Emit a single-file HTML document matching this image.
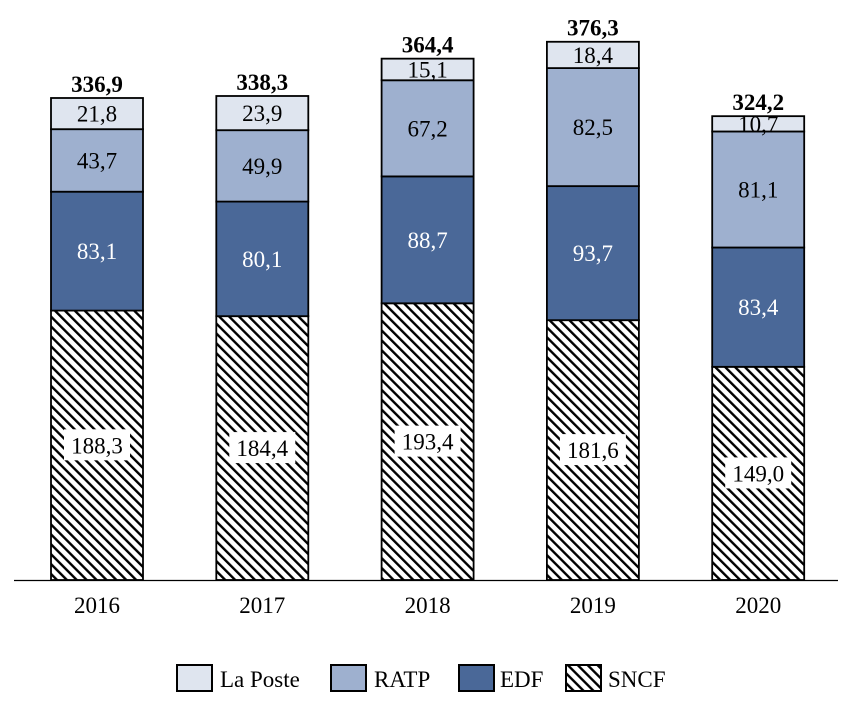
<!DOCTYPE html>
<html><head><meta charset="utf-8">
<style>
html,body{margin:0;padding:0;background:#fff;}
svg{display:block;font-family:"Liberation Serif",serif;}
</style></head>
<body>
<svg id="chart" width="854" height="709" viewBox="0 0 854 709" xmlns="http://www.w3.org/2000/svg">
<defs>
<pattern id="hatch" patternUnits="userSpaceOnUse" width="7" height="7" patternTransform="rotate(-45)">
<rect width="7" height="7" fill="#fff"/>
<rect x="0" y="0" width="2.4" height="7" fill="#000"/>
</pattern>
</defs>
<g id="bars"></g>
<line x1="14" y1="580.5" x2="838" y2="580.5" stroke="#000" stroke-width="1.2"/>
<g id="xlabels"></g>
<g id="legend">
<g><rect x="177" y="665" width="35" height="26" fill="#dfe5ef" stroke="#000" stroke-width="2"/><text x="220" y="687" font-size="23">La Poste</text></g>
<g><rect x="331" y="665" width="35" height="26" fill="#9eb0cf" stroke="#000" stroke-width="2"/><text x="374" y="687" font-size="23">RATP</text></g>
<g><rect x="459" y="665" width="35" height="26" fill="#4a6898" stroke="#000" stroke-width="2"/><text x="500" y="687" font-size="23">EDF</text></g>
<g><rect x="566" y="665" width="35" height="26" fill="url(#hatch)" stroke="#000" stroke-width="2"/><text x="608" y="687" font-size="23">SNCF</text></g>
</g>
</svg>
<script>
const years = ["2016","2017","2018","2019","2020"];
const sncf = [188.3,184.4,193.4,181.6,149.0];
const edf = [83.1,80.1,88.7,93.7,83.4];
const ratp = [43.7,49.9,67.2,82.5,81.1];
const laPoste = [21.8,23.9,15.1,18.4,10.7];
const totals = [336.9,338.3,364.4,376.3,324.2];

const NS="http://www.w3.org/2000/svg";
const baseY=580, pxPerUnit=1.4307, firstX=51, step=165.3, barW=92;
function yScale(v){return baseY - v*pxPerUnit;}
function xScale(i){return firstX + i*step;}
function fmt(v){return v.toFixed(1).replace('.',',');}
const bars=document.getElementById('bars');
const xl=document.getElementById('xlabels');
const series=[
 {name:'sncf',vals:sncf,fill:'url(#hatch)',txt:'#000',box:true},
 {name:'edf',vals:edf,fill:'#4a6898',txt:'#fff'},
 {name:'ratp',vals:ratp,fill:'#9eb0cf',txt:'#000'},
 {name:'la-poste',vals:laPoste,fill:'#dfe5ef',txt:'#000'}
];
years.forEach((yr,i)=>{
  let cum=0;
  const x=xScale(i);
  series.forEach(s=>{
    const v=s.vals[i];
    const y0=yScale(cum), y1=yScale(cum+v);
    const r=document.createElementNS(NS,'rect');
    
    
    r.setAttribute('x',x);r.setAttribute('y',y1);r.setAttribute('width',barW);r.setAttribute('height',y0-y1);
    r.setAttribute('fill',s.fill);r.setAttribute('stroke','#000');r.setAttribute('stroke-width','1.8');
    bars.appendChild(r);
    const cy=(y0+y1)/2;
    if(s.box){
      const b=document.createElementNS(NS,'rect');
      
      
      b.setAttribute('x',x+13);b.setAttribute('y',cy-16);b.setAttribute('width',66);b.setAttribute('height',31);b.setAttribute('fill','#fff');
      bars.appendChild(b);
    }
    const t=document.createElementNS(NS,'text');
    
    
    t.setAttribute('x',x+barW/2);t.setAttribute('y',cy+8);t.setAttribute('text-anchor','middle');
    t.setAttribute('font-size','23');t.setAttribute('fill',s.txt);
    t.textContent=fmt(v);
    bars.appendChild(t);
    cum+=v;
  });
  const tt=document.createElementNS(NS,'text');
  
  
  tt.setAttribute('x',x+barW/2);tt.setAttribute('y',yScale(totals[i])-6);tt.setAttribute('text-anchor','middle');
  tt.setAttribute('font-size','23');tt.setAttribute('font-weight','bold');
  tt.textContent=fmt(totals[i]);
  bars.appendChild(tt);
  const xt=document.createElementNS(NS,'text');
  
  
  xt.setAttribute('x',x+barW/2);xt.setAttribute('y',613);xt.setAttribute('text-anchor','middle');xt.setAttribute('font-size','23');
  xt.textContent=yr;
  xl.appendChild(xt);
});
</script>
</body></html>
